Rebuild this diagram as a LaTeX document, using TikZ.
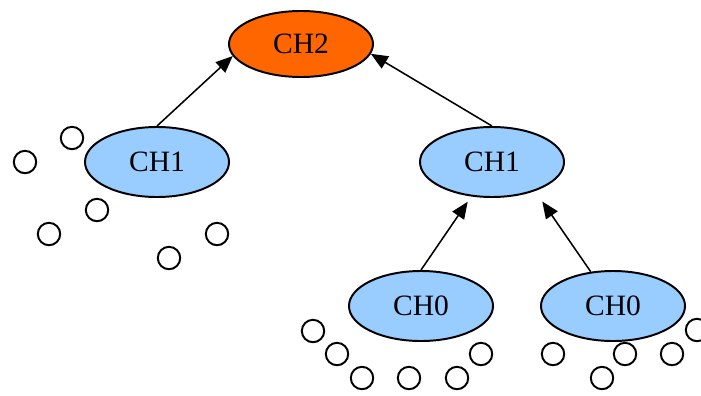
\documentclass[tikz,border=0pt]{standalone}
\usepackage{fontspec}
\setmainfont{Liberation Serif}
\usepackage{tikz}
\usetikzlibrary{arrows.meta, shapes.geometric}

\definecolor{headorange}{RGB}{255,102,0}
\definecolor{clusterblue}{RGB}{153,204,255}

\begin{document}
\begin{tikzpicture}[
    x=0.025cm, y=-0.025cm,
    font=\fontsize{21}{25}\selectfont,
    head/.style={ellipse, draw, line width=1.4pt, inner sep=0pt, minimum width=3.6cm},
    tophead/.style={head, fill=headorange, minimum height=1.65cm},
    midhead/.style={head, fill=clusterblue, minimum height=1.75cm},
    sensor/.style={circle, draw, line width=1.4pt, fill=white, inner sep=0pt, minimum size=0.56cm},
    link/.style={-{Triangle[length=12pt, width=10pt]}, line width=1.1pt},
]
\clip (0,0) rectangle (701,395);

% cluster heads
\node[tophead] (ch2) at (301,44) {CH2};
\node[midhead] (ch1a) at (157,162) {CH1};
\node[midhead] (ch1b) at (492,162) {CH1};
\node[midhead] (ch0a) at (421,306) {CH0};
\node[midhead] (ch0b) at (613,306) {CH0};

% --- sensor nodes ---
\foreach \n/\px/\py in {1/25/162, 2/72/138, 3/97/210, 4/49/234, 5/169/258, 6/217/234,
    7/313/331, 8/337/354, 9/362/378, 10/409/378, 11/457/378, 12/481/354,
    13/553/354, 14/602/378, 15/625/354, 16/672/354, 17/697/330} {
    \node[sensor] (s\n) at (\px,\py) {};
}

% links to the upper level
\draw[link] (ch1a.north) -- (ch2.190);
\draw[link] (ch1b.north) -- (ch2.352);
\draw[link, shorten >=4.5pt] (ch0a.north) -- (ch1b.239);
\draw[link, shorten >=9pt] (ch0b.123) -- (ch1b.326);

\end{tikzpicture}
\end{document}
